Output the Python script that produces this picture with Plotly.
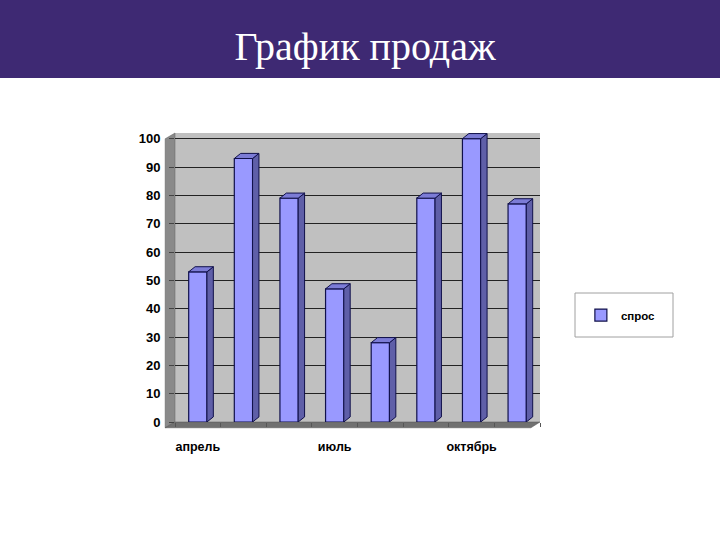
import plotly.graph_objects as go

months = ["апрель", "май", "июнь", "июль", "август", "сентябрь", "октябрь", "ноябрь"]
demand = [53, 93, 79, 47, 28, 79, 100, 77]
tick_labels = ["апрель", "июль", "октябрь"]
tick_idx = [0, 3, 6]
y_ticks = list(range(0, 101, 10))

x = list(range(len(months)))
hw = 0.2      # half bar width
dx = 0.14     # depth offset (x units)
dy = 1.8      # depth offset (y units)

side_x, side_y, top_x, top_y = [], [], [], []
for i, v in zip(x, demand):
    side_x += [i + hw, i + hw + dx, i + hw + dx, i + hw, i + hw, None]
    side_y += [0, dy, v + dy, v, 0, None]
    top_x += [i - hw, i - hw + dx, i + hw + dx, i + hw, i - hw, None]
    top_y += [v, v + dy, v + dy, v, v, None]

fig = go.Figure()
fig.add_trace(go.Scatter(x=side_x, y=side_y, fill="toself", mode="lines",
                         fillcolor="#5f5fa8", line=dict(color="#10104a", width=1),
                         showlegend=False, hoverinfo="skip"))
fig.add_trace(go.Scatter(x=top_x, y=top_y, fill="toself", mode="lines",
                         fillcolor="#7c7cd6", line=dict(color="#10104a", width=1),
                         showlegend=False, hoverinfo="skip"))
fig.add_trace(go.Bar(x=x, y=demand, width=2 * hw, name="спрос",
                     marker=dict(color="#9999ff", line=dict(color="#10104a", width=1.2))))

fig.update_layout(
    width=720, height=540,
    paper_bgcolor="white", plot_bgcolor="#c0c0c0",
    margin=dict(l=175, r=180, t=133, b=118),
    title=dict(text="График продаж", x=0.507, xanchor="center", y=1 - 46 / 540,
               yanchor="middle", yref="container",
               font=dict(family="'Times New Roman', 'Liberation Serif', serif", size=40, color="white")),
    showlegend=True,
    legend=dict(x=1.112, y=0.37, xanchor="left", yanchor="middle",
                bgcolor="rgba(0,0,0,0)", borderwidth=0,
                font=dict(family="Liberation Sans", size=11.5, color="black", weight="bold"),
                itemwidth=30),
    bargap=0.5,
    shapes=[
        dict(type="rect", xref="paper", yref="paper", x0=-0.48, x1=1.5,
             y0=(422 - 78) / 289, y1=422 / 289 + 0.01, fillcolor="#3e2973",
             line=dict(width=0), layer="below"),
        dict(type="path", xref="paper", yref="paper",
             path="M -0.027,-0.02 L 0,0 L 0,1 L -0.027,0.98 Z",
             fillcolor="#8a8a8a", line=dict(color="#606060", width=0.5), layer="below"),
        dict(type="path", xref="paper", yref="paper",
             path="M -0.027,-0.02 L 0.975,-0.02 L 1,0 L 0,0 Z",
             fillcolor="#707070", line=dict(color="#505050", width=0.5), layer="below"),
        dict(type="rect", xref="paper", yref="paper",
             x0=(575 - 175) / 365, x1=(673 - 175) / 365,
             y0=(422 - 337) / 289, y1=(422 - 293) / 289,
             fillcolor="white", line=dict(color="#a0a0a0", width=1), layer="below"),
    ],
)
fig.update_xaxes(range=[-0.5, 7.5], tickmode="array", tickvals=tick_idx, ticktext=tick_labels,
                 ticks="", showgrid=False, zeroline=False,
                 tickfont=dict(family="Liberation Sans", size=12.5, color="black", weight="bold"),
                 ticklabelstandoff=15,
                 minor=dict(ticks="outside", tick0=-0.5, dtick=1, ticklen=4, tickcolor="#555"))
fig.update_yaxes(range=[0, 102], tickvals=y_ticks, showgrid=True, gridcolor="#222",
                 gridwidth=1, zeroline=False, ticks="outside", ticklen=5, tickcolor="#444",
                 tickfont=dict(family="Liberation Sans", size=13, color="black", weight="bold"),
                 ticklabelstandoff=6)
fig.write_html("out.html", config={"displayModeBar": False},
               post_script="document.body.style.margin='0';")
